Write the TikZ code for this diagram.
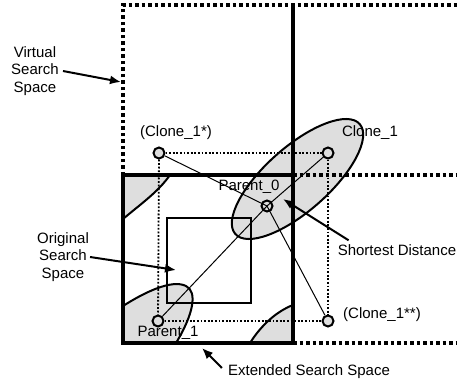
\documentclass[tikz,border=0pt]{standalone}
\usepackage{fontspec}
\setmainfont{Liberation Sans}
\usetikzlibrary{arrows.meta}
\begin{document}
\begin{tikzpicture}[x=1pt,y=-1pt,
  font=\fontsize{15}{17.5}\selectfont,
  thickline/.style={line width=3.5pt},
  vdots/.style={line width=3.5pt, dash pattern=on 3.5pt off 3pt},
  rdots/.style={line width=1.8pt, dash pattern=on 1.8pt off 1.8pt},
  shadefill/.style={fill=black!13},
  curve/.style={line width=2pt},
  thin/.style={line width=1pt},
  pt/.style={circle, draw, line width=2pt, fill=black!13, minimum size=11pt, inner sep=0pt},
  arr/.style={line width=2pt, -{Latex[length=11pt,width=9pt]}},
  lbl/.style={inner sep=1pt, align=center}]
\useasboundingbox (0,0) rectangle (457,385);

% shaded wrapped pieces
\fill[shadefill] (123,219) .. controls (142,203) and (158,192) .. (170,175) -- (123,175) -- cycle;
\draw[curve] (123,219) .. controls (142,203) and (158,192) .. (170,175);
\fill[shadefill] (250,343) .. controls (260,327) and (275,312) .. (293,305) -- (293,343) -- cycle;
\draw[curve] (250,343) .. controls (260,327) and (275,312) .. (293,305);
\fill[shadefill] (123,306) .. controls (145,292) and (172,279) .. (186,286) .. controls (198,292) and (193,315) .. (176,343) -- (123,343) -- cycle;
\draw[curve] (123,306) .. controls (145,292) and (172,279) .. (186,286) .. controls (198,292) and (193,315) .. (176,343);

% main ellipse
\filldraw[shadefill, draw=black, curve, rotate around={41.5:(297.5,179)}] (297.5,179) ellipse [x radius=83pt, y radius=32pt];

% original search space
\draw[curve] (167,218) rectangle (251,303);

% virtual search space
\draw[vdots] (123,175) -- (123,5) -- (457,5);
\draw[vdots] (293,175) -- (457,175);
\draw[vdots] (293,343) -- (457,343);

% extended search space
\draw[thickline] (123,175) rectangle (293,343);
\draw[thickline] (293,5) -- (293,175);

% points
\node[pt] (p0) at (267,206) {};
\node[pt] (p1) at (158,321) {};
\node[pt] (c1) at (328,153) {};
\node[pt] (c1s) at (159,153) {};
\node[pt] (c1ss) at (328,321) {};

% dotted rectangle
\draw[rdots] (c1s) -- (c1);
\draw[rdots] (c1s) -- (p1);
\draw[rdots] (c1) -- (c1ss);
\draw[rdots] (p1) -- (c1ss);

% connectors
\draw[thin] (p1) -- (p0.center) -- (c1);
\draw[thin] (c1s) -- (p0.center) -- (c1ss);

% labels
\node[lbl] (lc1s) at (176,133) {(Clone\_1*)};
\node[lbl] (lc1) at (370,133) {Clone\_1};
\node[lbl] (lp0) at (249,187) {Parent\_0};
\node[lbl] (lp1) at (168,333) {Parent\_1};
\node[lbl] (lc1ss) at (382,315) {(Clone\_1**)};
\node[lbl] (lsd) at (397,250) {Shortest Distance};
\node[lbl] (less) at (309,372) {Extended Search Space};
\node[lbl] (lvss) at (35,71) {Virtual\\Search\\Space};
\node[lbl] (loss) at (63,257) {Original\\Search\\Space};

% arrows
\coordinate (tv) at (121,82);
\coordinate (to) at (176,270);
\coordinate (ts) at (283,199);
\coordinate (te) at (202,348);
\draw[arr] ([xshift=3pt]lvss.east) -- (tv);
\draw[arr] (loss.east) -- (to);
\draw[arr] ([xshift=12pt,yshift=3pt]lsd.north west) -- (ts);
\draw[arr] ([xshift=-5pt,yshift=4pt]less.west) -- (te);
\end{tikzpicture}
\end{document}
